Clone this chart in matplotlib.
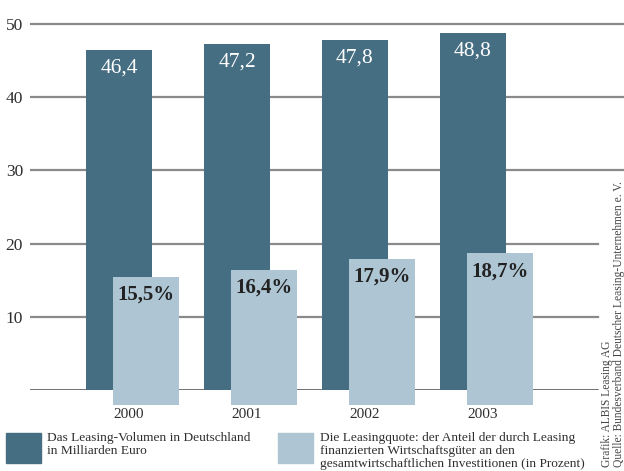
import numpy as np
import matplotlib
matplotlib.use("Agg")
import matplotlib.pyplot as plt
from matplotlib.patches import Rectangle

plt.rcParams["font.family"] = ["Liberation Serif", "DejaVu Serif"]

# Data
years = ["2000", "2001", "2002", "2003"]
volume = [46.4, 47.2, 47.8, 48.8]          # Mrd. Euro
quote = [15.5, 16.4, 17.9, 18.7]           # Prozent
y_ticks = [10, 20, 30, 40, 50]

dark = "#466e82"
light = "#aec5d3"
grid_c = "#8a8a8a"
text_c = "#2e2e2e"

W, H = 624, 471
fig = plt.figure(figsize=(W / 100, H / 100), dpi=100)

px_per_unit = 7.32
group_px = 118.0
x0_px = 119.0
ax = fig.add_axes([30 / W, (H - 390) / H, (W - 30) / W, (390 - 14) / H])
ax.set_ylim(0, 376 / px_per_unit)
ax.set_xlim((30 - x0_px) / group_px, (W - x0_px) / group_px)

idx = np.arange(len(years))
bw = 66 / group_px
off = 27 / group_px
below = -2.0

# gridlines
for v in y_ticks:
    xmax = 1.0 if v >= 30 else (598 - 30) / (W - 30)
    ax.axhline(v, xmin=0, xmax=xmax, color=grid_c, lw=1.6, zorder=0)
ax.axhline(0, xmin=0, xmax=(598 - 30) / (W - 30), color="#4a4a4a", lw=1.1, zorder=1)

ax.bar(idx, volume, width=bw, color=dark, zorder=2)
q = np.array(quote)
ax.bar(idx + off, q - below, bottom=below, width=bw, color=light, zorder=3,
       clip_on=False)

for i, v in zip(idx, volume):
    ax.annotate(f"{v:.1f}".replace(".", ","), (i, v), xytext=(0, -18),
                textcoords="offset pixels", ha="center", va="center",
                color="white", fontsize=15.5, zorder=5)
for i, v in zip(idx, quote):
    ax.annotate(f"{v:.1f}%".replace(".", ","), (i + off, v), xytext=(0, -18),
                textcoords="offset pixels", ha="center", va="center",
                color="#222222", fontsize=15, fontweight="bold", zorder=5)

ax.set_yticks(y_ticks)
ax.set_yticklabels([str(v) for v in y_ticks])
ax.set_xticks(idx + 0.08)
ax.set_xticklabels(years)
ax.tick_params(axis="y", length=0, pad=5, labelsize=12.5, labelcolor=text_c)
ax.tick_params(axis="x", length=0, pad=13, labelsize=11, labelcolor=text_c)
for s in ax.spines.values():
    s.set_visible(False)

# legend
fig.patches.append(Rectangle((6 / W, 1 - 463 / H), 35 / W, 30 / H,
                             transform=fig.transFigure, color=dark))
fig.patches.append(Rectangle((278 / W, 1 - 463 / H), 35 / W, 30 / H,
                             transform=fig.transFigure, color=light))
fig.text(47 / W, 1 - 432 / H,
         "Das Leasing-Volumen in Deutschland\nin Milliarden Euro",
         ha="left", va="top", fontsize=9.6, color=text_c, linespacing=1.12)
fig.text(320 / W, 1 - 432 / H,
         "Die Leasingquote: der Anteil der durch Leasing\n"
         "finanzierten Wirtschaftsgüter an den\n"
         "gesamtwirtschaftlichen Investitionen (in Prozent)",
         ha="left", va="top", fontsize=9.6, color=text_c, linespacing=1.12)

# source notes
fig.text(607 / W, 1 - 467 / H, "Grafik: ALBIS Leasing AG", rotation=90,
         ha="center", va="bottom", fontsize=8.3, color="#444444")
fig.text(619 / W, 1 - 467 / H,
         "Quelle: Bundesverband Deutscher Leasing-Unternehmen e. V.",
         rotation=90, ha="center", va="bottom", fontsize=8.3, color="#444444")

fig.savefig("out.png", dpi=100)
